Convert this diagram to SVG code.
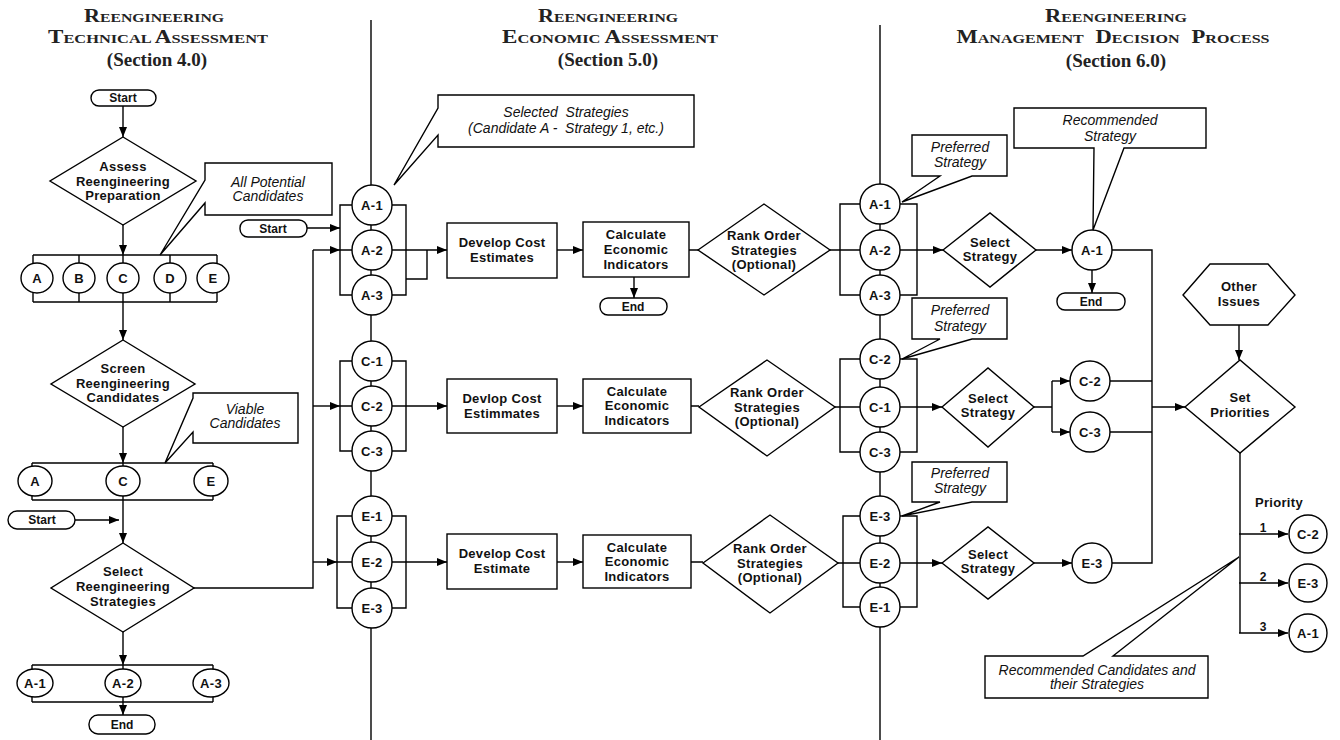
<svg xmlns="http://www.w3.org/2000/svg" width="1340" height="740" viewBox="0 0 1340 740">
<defs>
<marker id="ah" markerUnits="userSpaceOnUse" markerWidth="10" markerHeight="8" refX="10" refY="4" orient="auto"><path d="M0,0 L10,4 L0,8 Z" fill="#000"/></marker>
<style>
.ln{fill:none;stroke:#000;stroke-width:1.4}
.ar{fill:none;stroke:#000;stroke-width:1.4;marker-end:url(#ah)}
.sh{fill:#fff;stroke:#000;stroke-width:1.4}
.t{font-family:"Liberation Sans",Arial,sans-serif;font-weight:bold;font-size:13px;letter-spacing:0.3px;text-anchor:middle;fill:#111}
.s{font-family:"Liberation Sans",Arial,sans-serif;font-weight:bold;font-size:12px;text-anchor:middle;fill:#111}
.i{font-family:"Liberation Sans",Arial,sans-serif;font-style:italic;font-size:14px;text-anchor:middle;fill:#111;white-space:pre}
.h{font-family:"Liberation Serif","Times New Roman",serif;font-weight:bold;font-size:13.5px;text-anchor:middle;fill:#222}
.hb{font-size:19px}
.sec{font-family:"Liberation Serif","Times New Roman",serif;font-weight:bold;font-size:19px;text-anchor:middle;fill:#222}
</style>
</defs>
<rect width="1340" height="740" fill="#fff"/>

<g id="titles">
<text class="h" x="154" y="22" textLength="140" lengthAdjust="spacingAndGlyphs"><tspan class="hb">R</tspan>EENGINEERING</text>
<text class="h" x="158" y="43" textLength="220" lengthAdjust="spacingAndGlyphs"><tspan class="hb">T</tspan>ECHNICAL <tspan class="hb">A</tspan>SSESSMENT</text>
<text class="sec" x="157" y="66">(Section 4.0)</text>
<text class="h" x="608" y="22" textLength="140" lengthAdjust="spacingAndGlyphs"><tspan class="hb">R</tspan>EENGINEERING</text>
<text class="h" x="610" y="43" textLength="216" lengthAdjust="spacingAndGlyphs"><tspan class="hb">E</tspan>CONOMIC <tspan class="hb">A</tspan>SSESSMENT</text>
<text class="sec" x="608" y="66">(Section 5.0)</text>
<text class="h" x="1116" y="22" textLength="142" lengthAdjust="spacingAndGlyphs"><tspan class="hb">R</tspan>EENGINEERING</text>
<text class="h" x="1113" y="43" textLength="313" lengthAdjust="spacingAndGlyphs" xml:space="preserve" style="white-space:pre"><tspan class="hb">M</tspan>ANAGEMENT   <tspan class="hb">D</tspan>ECISION   <tspan class="hb">P</tspan>ROCESS</text>
<text class="sec" x="1116" y="67">(Section 6.0)</text>
</g>

<g id="connectors">
<path class="ln" d="M371,20 V740 M880,25 V740"/>
<path class="ar" d="M123,106 V137"/>
<path class="ar" d="M123,225 V255"/>
<path class="ln" d="M33,255 H217 M33,302 H217 M33,255 V302 M79,255 V302 M123,255 V302 M170,255 V302 M217,255 V302"/>
<path class="ar" d="M123,302 V340"/>
<path class="ar" d="M123,427 V463"/>
<path class="ln" d="M32,463 H213 M32,500 H213 M32,463 V500 M123,463 V500 M213,463 V500"/>
<path class="ar" d="M123,500 V543"/>
<path class="ar" d="M75,520 H119"/>
<path class="ar" d="M123,632 V665"/>
<path class="ln" d="M32,665 H213 M32,702 H213 M32,665 V702 M123,665 V702 M213,665 V702"/>
<path class="ar" d="M123,702 V715"/>
<path class="ln" d="M194,588 H313 V250"/>
<path class="ar" d="M313,250 H340"/>
<path class="ar" d="M313,406 H340"/>
<path class="ar" d="M313,562 H337"/>
<path class="ar" d="M307,228 H340"/>
<path class="ln" d="M352,205 H340 V295 H352 M392,205 H406 V295 H392 M340,250 H352 M406,279 H427 V250"/>
<path class="ln" d="M352,361 H340 V451 H352 M392,361 H406 V451 H392 M340,406 H352"/>
<path class="ln" d="M352,516 H337 V608 H352 M392,516 H406 V608 H392 M337,562 H352"/>
<path class="ar" d="M392,250 H447"/>
<path class="ar" d="M392,406 H447"/>
<path class="ar" d="M392,562 H447"/>
<path class="ar" d="M557,250 H583"/>
<path class="ar" d="M557,406 H583"/>
<path class="ar" d="M557,562 H583"/>
<path class="ar" d="M634,277 V298"/>
<path class="ln" d="M689,250 H698 M691,406 H699 M691,562 H703"/>
<path class="ln" d="M830,250 H860 M835,407 H860 M838,563 H860"/>
<path class="ln" d="M860,204 H840 V295 H860 M900,204 H917 V295 H900"/>
<path class="ln" d="M860,359 H840 V452 H860 M900,359 H917 V452 H900"/>
<path class="ln" d="M860,516 H843 V607 H860 M900,516 H917 V607 H900"/>
<path class="ar" d="M900,250 H943"/>
<path class="ar" d="M900,407 H942"/>
<path class="ar" d="M900,563 H942"/>
<path class="ar" d="M1036,250 H1072"/>
<path class="ar" d="M1092,270 V293"/>
<path class="ln" d="M1112,250 H1152 V563 H1112"/>
<path class="ln" d="M1034,407 H1052 M1052,381 V432"/>
<path class="ar" d="M1052,381 H1070"/>
<path class="ar" d="M1052,432 H1070"/>
<path class="ln" d="M1110,381 H1152 M1110,432 H1152"/>
<path class="ar" d="M1034,563 H1072"/>
<path class="ar" d="M1152,407 H1185"/>
<path class="ar" d="M1239,325 V360"/>
<path class="ln" d="M1240,453 V633"/>
<path class="ar" d="M1239,534 H1288"/>
<path class="ar" d="M1239,583 H1288"/>
<path class="ar" d="M1239,633 H1288"/>
</g>

<g id="start1"><rect class="sh" x="91" y="90" width="65" height="16" rx="8"/><text class="s" x="123" y="102">Start</text></g>
<g id="assess"><polygon class="sh" points="123,137 196,181 123,225 50,181"/><text class="t" x="123" y="171">Assess</text><text class="t" x="123" y="186">Reengineering</text><text class="t" x="123" y="200">Preparation</text></g>
<g id="cand-A"><ellipse class="sh" cx="37" cy="278" rx="16" ry="15"/><text class="t" x="37" y="283">A</text></g>
<g id="cand-B"><ellipse class="sh" cx="79" cy="278" rx="16" ry="15"/><text class="t" x="79" y="283">B</text></g>
<g id="cand-C"><ellipse class="sh" cx="123" cy="278" rx="16" ry="15"/><text class="t" x="123" y="283">C</text></g>
<g id="cand-D"><ellipse class="sh" cx="170" cy="278" rx="16" ry="15"/><text class="t" x="170" y="283">D</text></g>
<g id="cand-E"><ellipse class="sh" cx="213" cy="278" rx="16" ry="15"/><text class="t" x="213" y="283">E</text></g>
<g id="screen"><polygon class="sh" points="123,340 195,384 123,427 51,384"/><text class="t" x="123" y="373">Screen</text><text class="t" x="123" y="388">Reengineering</text><text class="t" x="123" y="402">Candidates</text></g>
<g id="viable-A"><ellipse class="sh" cx="35" cy="481" rx="17" ry="15"/><text class="t" x="35" y="486">A</text></g>
<g id="viable-C"><ellipse class="sh" cx="123" cy="481" rx="17" ry="15"/><text class="t" x="123" y="486">C</text></g>
<g id="viable-E"><ellipse class="sh" cx="211" cy="481" rx="17" ry="15"/><text class="t" x="211" y="486">E</text></g>
<g id="start2"><rect class="sh" x="8" y="511" width="67" height="18" rx="9"/><text class="s" x="42" y="524">Start</text></g>
<g id="select-re"><polygon class="sh" points="123,543 194,588 123,632 51,588"/><text class="t" x="123" y="576">Select</text><text class="t" x="123" y="591">Reengineering</text><text class="t" x="123" y="606">Strategies</text></g>
<g id="strat-A1"><ellipse class="sh" cx="35" cy="683" rx="18" ry="14"/><text class="t" x="35" y="688">A-1</text></g>
<g id="strat-A2"><ellipse class="sh" cx="123" cy="683" rx="18" ry="14"/><text class="t" x="123" y="688">A-2</text></g>
<g id="strat-A3"><ellipse class="sh" cx="211" cy="683" rx="18" ry="14"/><text class="t" x="211" y="688">A-3</text></g>
<g id="end1"><rect class="sh" x="89" y="715" width="66" height="19" rx="9"/><text class="s" x="122" y="729">End</text></g>

<g id="callout-all"><path class="sh" d="M205,163 H332 V215 H205 V203 L160,255 L205,180 Z"/><text class="i" x="268" y="187">All Potential</text><text class="i" x="268" y="201">Candidates</text></g>
<g id="callout-viable"><path class="sh" d="M193,393 H298 V443 H193 V432 L165,463 L193,398 Z"/><text class="i" x="245" y="414">Viable</text><text class="i" x="245" y="428">Candidates</text></g>

<g id="start3"><rect class="sh" x="240" y="220" width="67" height="17" rx="8"/><text class="s" x="273" y="233">Start</text></g>
<g id="callout-selected"><path class="sh" d="M438,95 H694 V147 H438 V135 L394,185 L438,108 Z"/><text class="i" x="566" y="117" xml:space="preserve">Selected  Strategies</text><text class="i" x="566" y="133" xml:space="preserve">(Candidate A -  Strategy 1, etc.)</text></g>

<g id="mA1"><circle class="sh" cx="372" cy="205" r="20"/><text class="t" x="372" y="210">A-1</text></g>
<g id="mA2"><circle class="sh" cx="372" cy="250" r="20"/><text class="t" x="372" y="255">A-2</text></g>
<g id="mA3"><circle class="sh" cx="372" cy="295" r="20"/><text class="t" x="372" y="300">A-3</text></g>
<g id="mC1"><circle class="sh" cx="372" cy="361" r="20"/><text class="t" x="372" y="366">C-1</text></g>
<g id="mC2"><circle class="sh" cx="372" cy="406" r="20"/><text class="t" x="372" y="411">C-2</text></g>
<g id="mC3"><circle class="sh" cx="372" cy="451" r="20"/><text class="t" x="372" y="456">C-3</text></g>
<g id="mE1"><circle class="sh" cx="372" cy="516" r="20"/><text class="t" x="372" y="521">E-1</text></g>
<g id="mE2"><circle class="sh" cx="372" cy="562" r="20"/><text class="t" x="372" y="567">E-2</text></g>
<g id="mE3"><circle class="sh" cx="372" cy="608" r="20"/><text class="t" x="372" y="613">E-3</text></g>

<g id="cost1"><rect class="sh" x="447" y="223" width="110" height="55"/><text class="t" x="502" y="247">Develop Cost</text><text class="t" x="502" y="262">Estimates</text></g>
<g id="cost2"><rect class="sh" x="447" y="379" width="110" height="54"/><text class="t" x="502" y="403">Devlop Cost</text><text class="t" x="502" y="418">Estimmates</text></g>
<g id="cost3"><rect class="sh" x="447" y="534" width="110" height="55"/><text class="t" x="502" y="558">Develop Cost</text><text class="t" x="502" y="573">Estimate</text></g>

<g id="calc1"><rect class="sh" x="583" y="222" width="106" height="55"/><text class="t" x="636" y="239">Calculate</text><text class="t" x="636" y="254">Economic</text><text class="t" x="636" y="269">Indicators</text></g>
<g id="calc2"><rect class="sh" x="583" y="379" width="108" height="54"/><text class="t" x="637" y="396">Calculate</text><text class="t" x="637" y="410">Economic</text><text class="t" x="637" y="425">Indicators</text></g>
<g id="calc3"><rect class="sh" x="583" y="535" width="108" height="53"/><text class="t" x="637" y="552">Calculate</text><text class="t" x="637" y="566">Economic</text><text class="t" x="637" y="581">Indicators</text></g>
<g id="end2"><rect class="sh" x="600" y="298" width="67" height="17" rx="8"/><text class="s" x="633" y="311">End</text></g>

<g id="rank1"><polygon class="sh" points="698,250 764,204 830,250 764,295"/><text class="t" x="764" y="240">Rank Order</text><text class="t" x="764" y="255">Strategies</text><text class="t" x="764" y="269">(Optional)</text></g>
<g id="rank2"><polygon class="sh" points="699,407 767,360 835,407 767,456"/><text class="t" x="767" y="397">Rank Order</text><text class="t" x="767" y="412">Strategies</text><text class="t" x="767" y="426">(Optional)</text></g>
<g id="rank3"><polygon class="sh" points="703,563 770,515 838,563 770,613"/><text class="t" x="770" y="553">Rank Order</text><text class="t" x="770" y="568">Strategies</text><text class="t" x="770" y="582">(Optional)</text></g>

<g id="rA1"><circle class="sh" cx="880" cy="204" r="20"/><text class="t" x="880" y="209">A-1</text></g>
<g id="rA2"><circle class="sh" cx="880" cy="250" r="20"/><text class="t" x="880" y="255">A-2</text></g>
<g id="rA3"><circle class="sh" cx="880" cy="295" r="20"/><text class="t" x="880" y="300">A-3</text></g>
<g id="rC2"><circle class="sh" cx="880" cy="359" r="20"/><text class="t" x="880" y="364">C-2</text></g>
<g id="rC1"><circle class="sh" cx="880" cy="407" r="20"/><text class="t" x="880" y="412">C-1</text></g>
<g id="rC3"><circle class="sh" cx="880" cy="452" r="20"/><text class="t" x="880" y="457">C-3</text></g>
<g id="rE3"><circle class="sh" cx="880" cy="516" r="20"/><text class="t" x="880" y="521">E-3</text></g>
<g id="rE2"><circle class="sh" cx="880" cy="563" r="20"/><text class="t" x="880" y="568">E-2</text></g>
<g id="rE1"><circle class="sh" cx="880" cy="607" r="20"/><text class="t" x="880" y="612">E-1</text></g>

<g id="pref1"><path class="sh" d="M912,135 H1007 V176 H972 L902,202 L940,176 H912 Z"/><text class="i" x="960" y="152">Preferred</text><text class="i" x="960" y="167">Strategy</text></g>
<g id="pref2"><path class="sh" d="M912,298 H1007 V339 H972 L902,359 L940,339 H912 Z"/><text class="i" x="960" y="315">Preferred</text><text class="i" x="960" y="331">Strategy</text></g>
<g id="pref3"><path class="sh" d="M912,462 H1007 V502 H972 L902,516 L940,502 H912 Z"/><text class="i" x="960" y="478">Preferred</text><text class="i" x="960" y="493">Strategy</text></g>

<g id="sel1"><polygon class="sh" points="943,250 990,213 1036,250 990,287"/><text class="t" x="990" y="247">Select</text><text class="t" x="990" y="261">Strategy</text></g>
<g id="sel2"><polygon class="sh" points="942,407 988,368 1034,407 988,447"/><text class="t" x="988" y="403">Select</text><text class="t" x="988" y="417">Strategy</text></g>
<g id="sel3"><polygon class="sh" points="942,563 988,527 1034,563 988,599"/><text class="t" x="988" y="559">Select</text><text class="t" x="988" y="573">Strategy</text></g>

<g id="recA1"><circle class="sh" cx="1092" cy="250" r="20"/><text class="t" x="1092" y="255">A-1</text></g>
<g id="end3"><rect class="sh" x="1057" y="293" width="68" height="17" rx="8"/><text class="s" x="1091" y="306">End</text></g>
<g id="recC2"><circle class="sh" cx="1090" cy="381" r="20"/><text class="t" x="1090" y="386">C-2</text></g>
<g id="recC3"><circle class="sh" cx="1090" cy="432" r="20"/><text class="t" x="1090" y="437">C-3</text></g>
<g id="recE3"><circle class="sh" cx="1092" cy="563" r="20"/><text class="t" x="1092" y="568">E-3</text></g>
<g id="callout-rec"><path class="sh" d="M1014,108 H1206 V148 H1124 L1093,230 L1094,148 H1014 Z"/><text class="i" x="1110" y="125">Recommended</text><text class="i" x="1110" y="141">Strategy</text></g>

<g id="other"><polygon class="sh" points="1183,295 1210,264 1268,264 1295,295 1268,325 1210,325"/><text class="t" x="1239" y="291">Other</text><text class="t" x="1239" y="306">Issues</text></g>
<g id="setpri"><polygon class="sh" points="1185,407 1240,360 1295,407 1240,453"/><text class="t" x="1240" y="402">Set</text><text class="t" x="1240" y="417">Priorities</text></g>
<g id="priority-labels"><text class="t" x="1279" y="507">Priority</text><text class="s" x="1263" y="532">1</text><text class="s" x="1263" y="581">2</text><text class="s" x="1263" y="631">3</text></g>
<g id="p1"><circle class="sh" cx="1308" cy="534" r="19"/><text class="t" x="1308" y="539">C-2</text></g>
<g id="p2"><circle class="sh" cx="1308" cy="583" r="19"/><text class="t" x="1308" y="588">E-3</text></g>
<g id="p3"><circle class="sh" cx="1308" cy="633" r="19"/><text class="t" x="1308" y="638">A-1</text></g>
<g id="callout-final"><path class="sh" d="M985,656 H1083 L1239,557 L1113,656 H1208 V698 H985 Z"/><text class="i" x="1097" y="675">Recommended Candidates and</text><text class="i" x="1097" y="689">their Strategies</text></g>
</svg>
